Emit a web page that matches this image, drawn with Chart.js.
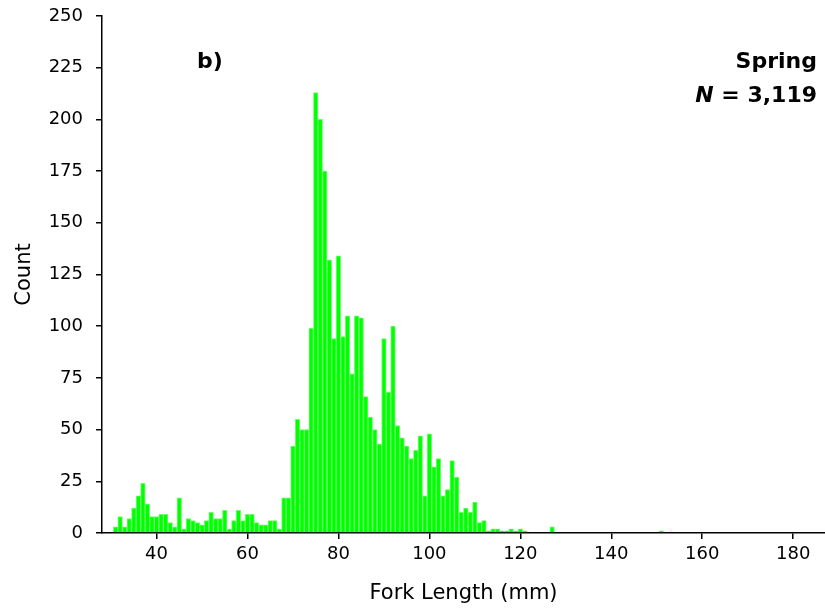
<!DOCTYPE html>
<html>
<head>
<meta charset="utf-8">
<script src="https://cdn.jsdelivr.net/npm/chart.js@4/dist/chart.umd.min.js"></script>
<style>
  html, body { margin: 0; padding: 0; background: #fff; }
  #wrap { width: 825px; height: 609px; }
</style>
</head>
<body>
<div id="wrap"><canvas id="c" width="825" height="609"></canvas></div>
<script>
// Fork length bins (mm)
const lengths = [
  31,32,33,34,35,36,37,38,39,40,
  41,42,43,44,45,46,47,48,49,50,
  51,52,53,54,55,56,57,58,59,60,
  61,62,63,64,65,66,67,68,69,70,
  71,72,73,74,75,76,77,78,79,80,
  81,82,83,84,85,86,87,88,89,90,
  91,92,93,94,95,96,97,98,99,100,
  101,102,103,104,105,106,107,108,109,110,
  111,112,113,114,115,116,117,118,119,120,121,
  127,151
];
// Counts per bin
const counts = [
  3,8,3,7,12,18,24,14,8,8,
  9,9,5,3,17,2,7,6,5,4,
  6,10,7,7,11,2,6,11,6,9,
  9,5,4,4,6,6,2,17,17,42,
  55,50,50,99,213,200,175,132,94,134,
  95,105,77,105,104,66,56,50,43,94,
  68,100,52,46,42,36,40,47,18,48,
  32,36,18,21,35,27,10,12,10,15,
  5,6,1,2,2,1,1,2,1,2,1,
  3,1
];
const xTicks = [40,60,80,100,120,140,160,180];
const yTicks = [0,25,50,75,100,125,150,175,200,225,250];
const panelLabel = 'b)';
const seasonLabel = 'Spring';
const nLabel = '3,119';

const points = lengths.map((x, i) => ({x: x, y: counts[i]}));

const FONT = 'DejaVu Sans';

const annotations = {
  id: 'annotations',
  afterDraw(chart) {
    const ctx = chart.ctx;
    ctx.save();
    ctx.fillStyle = '#000';
    ctx.textBaseline = 'middle';
    ctx.font = 'bold 22px "' + FONT + '"';
    ctx.textAlign = 'left';
    ctx.fillText(panelLabel, 197, 62);
    ctx.textAlign = 'right';
    ctx.fillText(seasonLabel, 817, 62);
    const rest = ' = ' + nLabel;
    const wRest = ctx.measureText(rest).width;
    ctx.fillText(rest, 817, 96);
    ctx.font = 'italic bold 22px "' + FONT + '"';
    ctx.fillText('N', 817 - wRest, 96);
    ctx.restore();
  }
};

function zeroPad(s) {
  s.paddingTop = 0; s.paddingBottom = 0; s.paddingLeft = 0; s.paddingRight = 0;
}

new Chart(document.getElementById('c'), {
  type: 'bar',
  data: {
    datasets: [{
      data: points,
      backgroundColor: '#00ff00',
      borderColor: '#6cff6c',
      borderWidth: 1,
      categoryPercentage: 1.0,
      barPercentage: 1.0
    }]
  },
  options: {
    responsive: false,
    animation: false,
    layout: { padding: { top: 16, right: 0, bottom: 0, left: 0 } },
    plugins: { legend: { display: false }, tooltip: { enabled: false } },
    scales: {
      x: {
        type: 'linear',
        position: 'bottom',
        min: 28,
        max: 187,
        offset: false,
        afterBuildTicks(s) { s.ticks = xTicks.map(v => ({value: v})); },
        afterFit(s) { s.height = 76; zeroPad(s); },
        grid: { offset: false, drawOnChartArea: false, drawTicks: true, tickLength: 6, color: '#000', lineWidth: 1.5 },
        border: { display: true, color: '#000', width: 1.5 },
        ticks: { color: '#000', font: { family: FONT, size: 18 }, padding: 5, maxRotation: 0 },
        title: { display: true, text: 'Fork Length (mm)', color: '#000', font: { family: FONT, size: 21 }, padding: { top: 0, bottom: 3 } }
      },
      y: {
        type: 'linear',
        min: 0,
        max: 250,
        afterBuildTicks(s) { s.ticks = yTicks.map(v => ({value: v})); },
        afterFit(s) { s.width = 102; zeroPad(s); },
        grid: { drawOnChartArea: false, drawTicks: true, tickLength: 6, color: '#000', lineWidth: 1.5 },
        border: { display: true, color: '#000', width: 1.5 },
        ticks: { color: '#000', font: { family: FONT, size: 18 }, padding: 13 },
        title: { display: true, text: 'Count', color: '#000', font: { family: FONT, size: 21 }, padding: { top: 12, bottom: 0 } }
      }
    }
  },
  plugins: [annotations]
});
</script>
</body>
</html>
